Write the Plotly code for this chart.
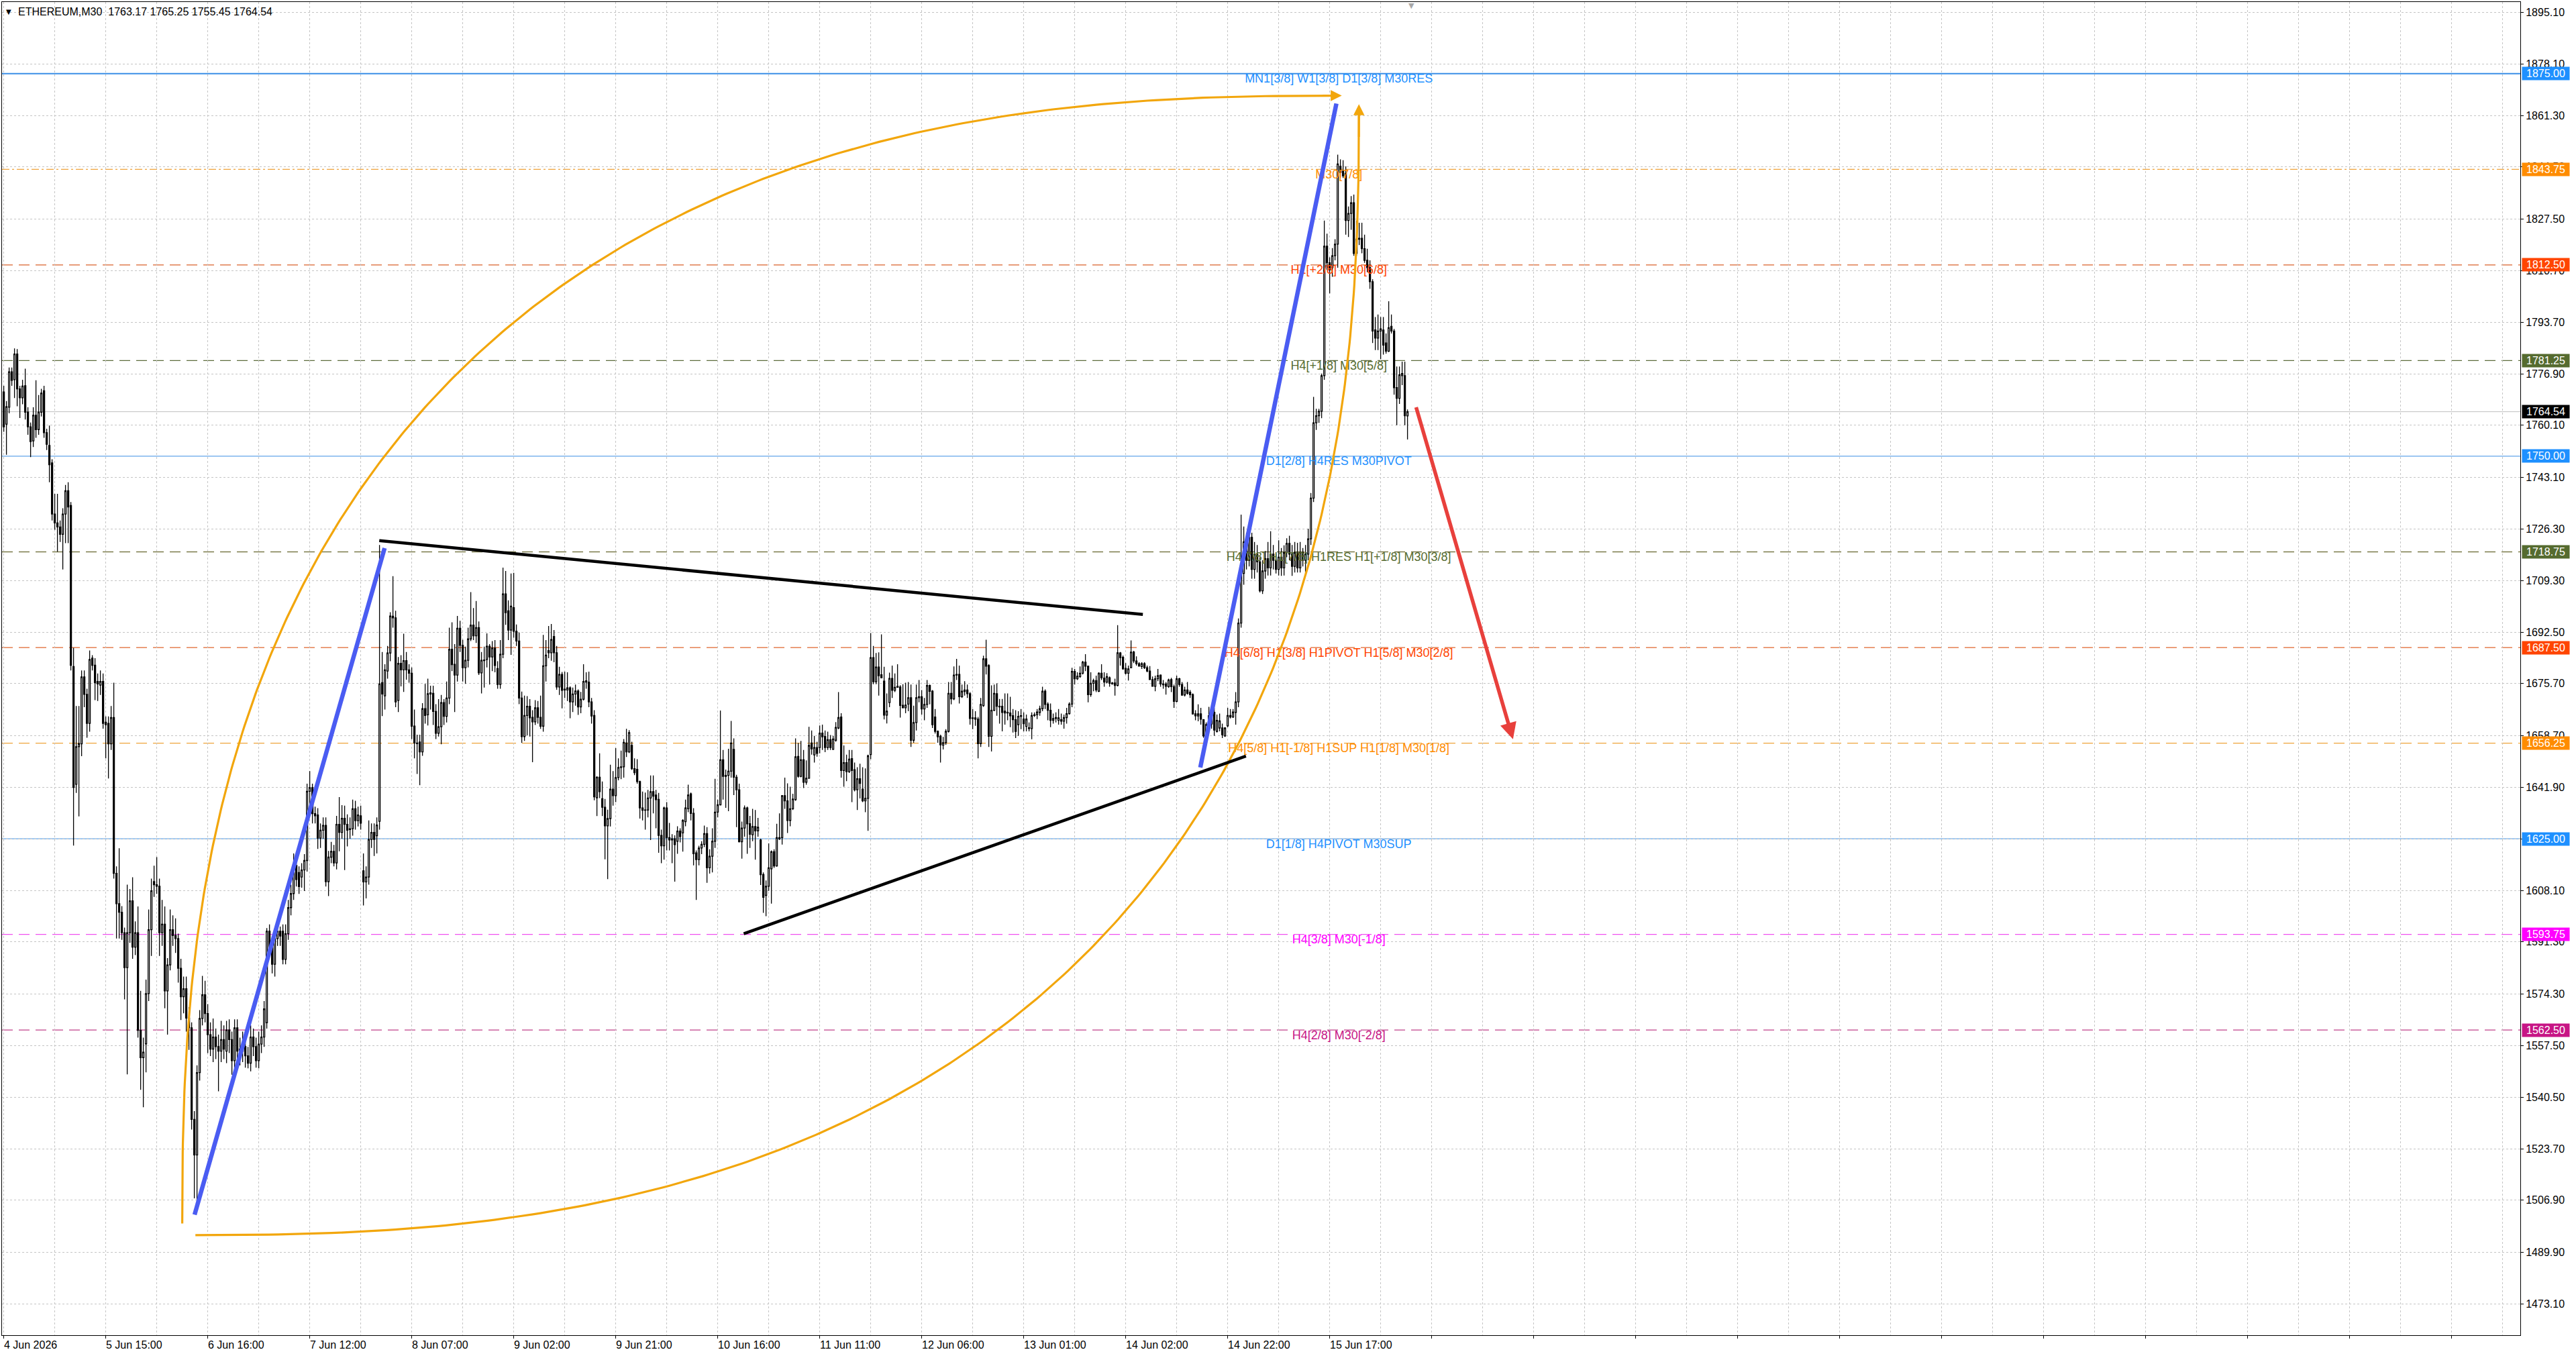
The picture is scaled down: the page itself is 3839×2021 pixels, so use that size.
import numpy as np
import plotly.graph_objects as go

# ---------------- data: ETHEREUM M30 candles (bar index 0..523) ----------------
opens = [
1771.0, 1760.5, 1766.0, 1777.6, 1775.0, 1783.4, 1772.0, 1769.1, 1773.0, 1764.4,
1759.6, 1755.0, 1763.4, 1758.7, 1764.4, 1771.4, 1757.7, 1753.5, 1747.8, 1731.1,
1728.2, 1726.9, 1724.5, 1731.1, 1738.7, 1733.9, 1681.3, 1642.8, 1655.1, 1656.0,
1677.9, 1672.2, 1662.7, 1684.0, 1681.7, 1676.4, 1675.2, 1676.4, 1663.1, 1662.7,
1656.0, 1664.6, 1613.7, 1603.8, 1601.0, 1594.3, 1582.9, 1594.3, 1604.7, 1589.6,
1594.3, 1562.4, 1553.5, 1558.0, 1574.4, 1595.3, 1611.0, 1610.0, 1609.5, 1594.3,
1597.1, 1575.3, 1583.8, 1595.3, 1593.4, 1592.4, 1582.7, 1573.4, 1576.0, 1566.4,
1563.2, 1533.3, 1521.7, 1548.6, 1566.3, 1574.0, 1567.9, 1561.0, 1556.3, 1560.2,
1557.1, 1555.6, 1559.4, 1555.6, 1562.5, 1559.4, 1552.5, 1563.2, 1556.3, 1555.6,
1557.1, 1554.1, 1551.7, 1560.2, 1557.1, 1552.5, 1557.9, 1560.2, 1564.9, 1594.8,
1589.4, 1584.0, 1592.4, 1594.8, 1594.8, 1585.6, 1594.0, 1602.5, 1607.1, 1616.3,
1614.0, 1612.5, 1614.8, 1617.9, 1640.5, 1641.7, 1633.2, 1632.8, 1625.2, 1627.8,
1629.4, 1611.0, 1619.0, 1620.9, 1617.1, 1629.7, 1627.1, 1631.7, 1629.7, 1628.0,
1628.3, 1634.8, 1630.9, 1632.5, 1614.5, 1610.9, 1612.5, 1624.8, 1627.1, 1626.0,
1630.7, 1676.0, 1671.7, 1679.8, 1685.7, 1697.7, 1697.2, 1670.2, 1682.3, 1680.2,
1683.2, 1680.2, 1679.1, 1661.8, 1656.3, 1656.6, 1653.4, 1667.5, 1665.5, 1672.7,
1672.5, 1666.6, 1659.5, 1661.6, 1669.5, 1665.0, 1671.0, 1686.9, 1682.0, 1678.5,
1693.8, 1688.2, 1680.9, 1683.3, 1690.3, 1694.8, 1691.3, 1694.0, 1679.2, 1683.4,
1683.6, 1687.9, 1684.4, 1687.3, 1680.6, 1675.4, 1685.3, 1705.0, 1699.5, 1693.2,
1700.5, 1692.8, 1689.6, 1671.0, 1658.4, 1665.3, 1668.3, 1664.7, 1663.2, 1667.8,
1664.7, 1661.8, 1681.5, 1686.5, 1685.8, 1691.1, 1685.8, 1674.6, 1678.7, 1673.9,
1673.6, 1674.3, 1669.7, 1672.3, 1673.3, 1668.1, 1670.6, 1676.6, 1676.2, 1669.7,
1665.3, 1638.4, 1645.1, 1638.1, 1635.3, 1629.2, 1631.6, 1641.2, 1639.1, 1645.0,
1648.3, 1648.5, 1656.3, 1653.4, 1655.5, 1647.9, 1647.7, 1643.7, 1635.1, 1634.3,
1634.4, 1638.3, 1640.4, 1639.3, 1637.9, 1626.1, 1622.7, 1635.1, 1625.4, 1624.6,
1625.0, 1624.2, 1627.5, 1626.9, 1630.6, 1634.8, 1639.7, 1633.3, 1620.4, 1618.2,
1622.0, 1623.2, 1626.7, 1615.5, 1619.3, 1624.2, 1633.7, 1636.1, 1650.8, 1645.7,
1645.7, 1647.1, 1654.2, 1645.1, 1641.0, 1624.0, 1628.5, 1635.1, 1629.9, 1626.3,
1629.0, 1627.6, 1624.6, 1613.3, 1606.5, 1609.5, 1615.2, 1620.8, 1616.1, 1625.4,
1625.4, 1639.1, 1637.4, 1631.0, 1634.8, 1637.8, 1651.9, 1645.4, 1650.8, 1643.5,
1644.8, 1656.3, 1652.4, 1654.8, 1654.8, 1659.5, 1658.4, 1654.8, 1657.4, 1654.2,
1657.2, 1661.2, 1664.8, 1647.3, 1649.9, 1646.9, 1651.2, 1647.6, 1641.0, 1644.6,
1641.2, 1637.4, 1638.2, 1652.5, 1684.2, 1676.3, 1681.1, 1678.6, 1676.5, 1665.4,
1669.5, 1677.4, 1673.5, 1674.5, 1674.6, 1668.6, 1667.8, 1669.0, 1671.1, 1657.2,
1663.0, 1671.1, 1671.4, 1667.4, 1668.9, 1675.1, 1673.2, 1664.8, 1660.1, 1658.5,
1655.6, 1656.4, 1660.1, 1672.5, 1670.7, 1678.5, 1678.7, 1671.4, 1673.1, 1673.6,
1672.4, 1664.5, 1664.1, 1664.1, 1656.1, 1668.5, 1683.8, 1681.6, 1658.5, 1667.0,
1672.4, 1668.3, 1668.3, 1666.7, 1666.1, 1666.1, 1665.2, 1663.9, 1662.3, 1665.0,
1664.1, 1661.7, 1661.3, 1661.0, 1665.5, 1665.5, 1666.3, 1667.5, 1673.2, 1669.0,
1667.0, 1663.7, 1664.3, 1663.7, 1663.9, 1663.4, 1664.6, 1665.9, 1669.0, 1679.7,
1677.3, 1678.0, 1679.1, 1682.7, 1681.4, 1672.1, 1675.8, 1676.7, 1673.2, 1679.1,
1677.5, 1676.2, 1677.6, 1675.9, 1675.9, 1675.1, 1685.7, 1684.3, 1680.7, 1679.1,
1680.9, 1686.0, 1683.1, 1682.2, 1681.3, 1682.2, 1680.9, 1679.8, 1677.0, 1674.8,
1677.3, 1678.5, 1675.6, 1675.6, 1674.7, 1677.0, 1674.7, 1669.9, 1677.3, 1675.4,
1672.0, 1673.6, 1672.9, 1672.1, 1665.8, 1665.1, 1665.8, 1663.9, 1659.4, 1665.2,
1662.5, 1666.3, 1660.1, 1661.2, 1661.2, 1658.6, 1661.9, 1665.3, 1664.8, 1666.3,
1669.7, 1695.5, 1711.7, 1722.0, 1716.0, 1723.5, 1713.0, 1718.0, 1715.5, 1706.0,
1712.5, 1716.5, 1713.5, 1718.0, 1716.0, 1713.0, 1717.0, 1713.5, 1718.5, 1721.5,
1718.0, 1714.0, 1718.5, 1713.5, 1718.5, 1716.0, 1718.0, 1723.0, 1736.3, 1760.9,
1763.2, 1764.7, 1776.3, 1818.6, 1813.2, 1811.6, 1815.5, 1819.3, 1844.7, 1843.2,
1842.4, 1827.0, 1829.3, 1832.8, 1816.3, 1820.9, 1821.2, 1817.8, 1814.0, 1811.6,
1807.0, 1791.3, 1788.6, 1790.9, 1791.2, 1787.0, 1784.3, 1792.4, 1790.9, 1772.4,
1768.9, 1776.3, 1776.3, 1763.17,
]

highs = [
1773.0, 1768.0, 1779.0, 1779.0, 1785.2, 1785.0, 1773.0, 1775.0, 1778.6, 1766.0,
1761.0, 1766.0, 1774.8, 1770.0, 1772.0, 1773.0, 1759.0, 1760.0, 1749.0, 1737.7,
1737.7, 1729.0, 1733.0, 1740.6, 1741.5, 1735.0, 1687.4, 1668.4, 1668.4, 1680.0,
1680.0, 1674.0, 1686.5, 1685.0, 1684.0, 1679.0, 1680.0, 1679.0, 1665.0, 1665.0,
1668.4, 1676.0, 1616.0, 1621.9, 1603.0, 1596.0, 1610.0, 1608.6, 1612.4, 1598.0,
1602.9, 1575.3, 1560.0, 1579.0, 1601.9, 1612.0, 1616.2, 1619.0, 1612.0, 1605.0,
1602.9, 1586.0, 1601.9, 1600.0, 1599.0, 1594.0, 1585.8, 1580.0, 1580.0, 1570.0,
1565.0, 1536.0, 1551.0, 1569.0, 1580.2, 1578.6, 1571.0, 1565.0, 1566.3, 1563.0,
1561.0, 1565.5, 1564.0, 1565.5, 1566.0, 1562.0, 1566.0, 1566.0, 1560.0, 1562.0,
1559.0, 1557.0, 1564.0, 1563.0, 1560.0, 1562.0, 1564.0, 1572.0, 1595.8, 1597.0,
1592.0, 1595.0, 1598.0, 1596.3, 1597.0, 1597.0, 1605.0, 1610.0, 1620.2, 1618.0,
1616.0, 1617.0, 1620.0, 1643.0, 1647.1, 1643.0, 1635.5, 1635.0, 1630.0, 1632.0,
1632.0, 1621.0, 1624.0, 1623.0, 1632.5, 1638.6, 1636.0, 1635.8, 1633.0, 1632.0,
1637.8, 1637.4, 1635.5, 1635.8, 1620.2, 1616.0, 1631.0, 1630.0, 1630.0, 1632.0,
1721.0, 1686.0, 1682.0, 1688.0, 1699.0, 1710.8, 1699.5, 1684.4, 1685.0, 1692.0,
1686.0, 1682.0, 1681.0, 1667.2, 1659.0, 1659.0, 1669.3, 1675.6, 1677.3, 1675.0,
1675.0, 1669.0, 1670.6, 1672.0, 1670.6, 1676.4, 1694.0, 1695.7, 1688.6, 1697.8,
1696.2, 1690.0, 1687.8, 1694.0, 1705.6, 1700.4, 1702.7, 1696.0, 1686.0, 1687.8,
1692.1, 1688.6, 1689.6, 1689.9, 1683.0, 1689.9, 1713.6, 1712.5, 1702.9, 1711.7,
1711.9, 1695.0, 1692.4, 1673.1, 1671.8, 1671.6, 1670.6, 1667.0, 1670.3, 1670.0,
1671.8, 1691.6, 1689.9, 1694.5, 1695.2, 1693.2, 1688.0, 1681.2, 1679.5, 1679.6,
1679.4, 1674.8, 1674.4, 1675.4, 1673.8, 1673.0, 1682.0, 1679.4, 1679.6, 1671.0,
1667.0, 1645.4, 1652.9, 1643.7, 1638.0, 1634.5, 1649.2, 1647.1, 1654.6, 1651.3,
1653.8, 1657.6, 1660.9, 1660.5, 1656.7, 1651.3, 1651.0, 1644.0, 1640.4, 1640.1,
1641.0, 1645.7, 1645.7, 1641.0, 1640.0, 1628.0, 1635.5, 1637.0, 1630.2, 1626.5,
1626.1, 1629.1, 1628.4, 1631.4, 1637.8, 1642.7, 1640.1, 1635.0, 1621.2, 1622.7,
1624.2, 1629.3, 1628.8, 1621.6, 1628.4, 1644.6, 1637.8, 1666.9, 1654.0, 1647.6,
1654.4, 1663.5, 1657.8, 1645.9, 1643.0, 1630.6, 1635.9, 1635.5, 1632.5, 1634.8,
1634.4, 1631.8, 1625.0, 1614.0, 1611.4, 1623.5, 1621.2, 1621.6, 1629.9, 1633.3,
1639.3, 1645.0, 1643.1, 1642.0, 1639.7, 1657.8, 1656.3, 1657.0, 1654.0, 1650.6,
1661.6, 1660.4, 1658.6, 1656.7, 1662.0, 1662.3, 1660.4, 1660.0, 1658.9, 1658.6,
1663.1, 1672.9, 1666.0, 1655.5, 1652.5, 1654.0, 1654.0, 1649.9, 1648.4, 1649.5,
1648.4, 1648.0, 1652.5, 1692.2, 1688.0, 1685.7, 1685.9, 1691.8, 1681.2, 1672.5,
1679.3, 1681.6, 1679.0, 1682.0, 1675.2, 1675.5, 1676.0, 1676.2, 1675.4, 1668.5,
1675.4, 1676.9, 1673.6, 1671.0, 1676.9, 1675.4, 1673.6, 1667.4, 1660.4, 1659.0,
1658.3, 1660.8, 1676.2, 1676.2, 1681.3, 1683.8, 1681.6, 1675.4, 1676.5, 1675.4,
1672.9, 1667.4, 1666.7, 1664.8, 1671.0, 1684.8, 1690.0, 1682.0, 1675.1, 1675.4,
1675.8, 1670.7, 1670.7, 1672.5, 1672.5, 1671.4, 1667.4, 1667.0, 1666.7, 1667.4,
1666.3, 1665.6, 1663.0, 1666.3, 1666.3, 1667.4, 1668.5, 1674.7, 1673.8, 1669.6,
1669.2, 1665.9, 1666.3, 1667.4, 1665.9, 1665.6, 1667.8, 1669.6, 1680.9, 1680.5,
1679.4, 1681.3, 1683.1, 1685.3, 1681.6, 1679.4, 1677.3, 1678.3, 1679.4, 1682.0,
1679.4, 1679.1, 1678.0, 1676.2, 1677.3, 1694.8, 1686.0, 1684.9, 1682.4, 1681.6,
1689.8, 1686.4, 1684.6, 1682.7, 1682.7, 1682.7, 1681.6, 1681.4, 1678.0, 1678.3,
1680.5, 1678.7, 1676.9, 1676.2, 1677.3, 1677.6, 1675.4, 1678.3, 1677.6, 1676.2,
1674.7, 1676.2, 1673.6, 1672.5, 1667.0, 1668.9, 1667.8, 1664.1, 1663.0, 1668.1,
1667.0, 1667.8, 1665.6, 1665.9, 1662.6, 1661.5, 1667.8, 1667.4, 1667.4, 1672.9,
1697.0, 1730.9, 1727.0, 1725.0, 1727.8, 1725.0, 1722.0, 1721.0, 1717.0, 1716.0,
1719.0, 1722.0, 1725.5, 1721.0, 1718.0, 1722.5, 1720.0, 1720.9, 1723.2, 1724.0,
1721.0, 1722.0, 1721.7, 1722.0, 1720.0, 1721.0, 1726.3, 1738.0, 1769.4, 1765.5,
1765.5, 1777.0, 1827.0, 1822.7, 1815.0, 1818.0, 1820.9, 1848.5, 1847.0, 1846.7,
1844.7, 1831.6, 1835.0, 1835.5, 1827.0, 1826.3, 1826.3, 1822.4, 1817.8, 1814.0,
1807.8, 1795.5, 1796.3, 1795.5, 1795.5, 1790.1, 1800.6, 1796.3, 1791.6, 1779.3,
1779.3, 1780.9, 1780.9, 1765.25,
]

lows = [
1758.0, 1750.5, 1764.0, 1773.0, 1769.0, 1766.3, 1762.5, 1767.0, 1762.0, 1757.0,
1749.7, 1753.0, 1756.0, 1757.0, 1763.0, 1756.0, 1752.0, 1741.5, 1729.0, 1726.0,
1718.8, 1722.0, 1713.0, 1721.6, 1721.6, 1680.0, 1622.8, 1640.0, 1632.3, 1652.0,
1668.0, 1658.0, 1660.0, 1680.0, 1670.3, 1670.0, 1672.0, 1661.0, 1651.3, 1644.7,
1654.0, 1612.0, 1592.4, 1592.4, 1592.0, 1572.5, 1548.0, 1591.0, 1585.8, 1587.0,
1560.0, 1543.0, 1537.3, 1548.7, 1572.0, 1586.7, 1606.0, 1607.0, 1586.7, 1590.0,
1569.6, 1561.0, 1582.0, 1590.0, 1587.7, 1578.0, 1565.8, 1568.0, 1562.0, 1556.0,
1530.0, 1507.5, 1506.0, 1546.0, 1564.0, 1565.0, 1555.0, 1554.0, 1552.0, 1553.0,
1542.5, 1552.0, 1553.0, 1551.7, 1555.0, 1547.9, 1550.0, 1551.0, 1551.0, 1552.0,
1550.2, 1550.0, 1549.0, 1554.0, 1550.2, 1550.0, 1555.0, 1557.0, 1563.0, 1587.0,
1581.0, 1580.0, 1590.0, 1590.0, 1584.0, 1584.0, 1592.0, 1600.0, 1605.0, 1609.4,
1607.0, 1609.0, 1607.9, 1614.3, 1636.0, 1630.0, 1630.0, 1621.7, 1622.0, 1625.0,
1609.4, 1606.3, 1617.0, 1616.0, 1615.0, 1620.9, 1625.0, 1614.8, 1622.5, 1625.0,
1626.0, 1628.0, 1629.0, 1628.0, 1603.2, 1605.5, 1610.0, 1622.0, 1619.4, 1620.2,
1628.0, 1665.1, 1667.2, 1677.3, 1683.0, 1694.0, 1668.0, 1666.4, 1674.8, 1673.0,
1677.0, 1676.0, 1657.6, 1651.3, 1646.2, 1642.5, 1652.1, 1662.6, 1662.0, 1667.2,
1662.2, 1657.6, 1658.4, 1655.9, 1662.2, 1663.0, 1669.0, 1679.8, 1666.4, 1676.4,
1686.0, 1676.4, 1675.6, 1681.0, 1689.6, 1689.9, 1689.0, 1678.5, 1672.5, 1674.4,
1681.0, 1675.4, 1679.8, 1679.4, 1674.0, 1674.0, 1684.0, 1694.9, 1689.9, 1685.1,
1690.7, 1688.0, 1669.0, 1656.3, 1657.0, 1658.8, 1658.4, 1650.0, 1662.2, 1662.6,
1660.9, 1660.0, 1676.4, 1684.0, 1683.2, 1682.7, 1673.7, 1672.0, 1667.6, 1671.0,
1670.0, 1664.4, 1666.4, 1668.5, 1665.5, 1666.0, 1670.2, 1674.0, 1668.0, 1662.6,
1637.6, 1632.4, 1638.3, 1632.4, 1618.3, 1611.8, 1629.0, 1635.8, 1637.0, 1644.1,
1644.5, 1645.0, 1651.7, 1653.0, 1647.5, 1645.8, 1643.0, 1631.6, 1631.0, 1628.0,
1632.0, 1624.6, 1633.3, 1628.4, 1620.4, 1617.0, 1618.2, 1621.2, 1621.2, 1617.0,
1611.0, 1620.1, 1623.8, 1620.8, 1629.1, 1633.7, 1631.0, 1616.3, 1605.0, 1616.3,
1620.0, 1622.3, 1610.6, 1613.6, 1614.0, 1622.0, 1632.0, 1635.9, 1637.8, 1635.1,
1634.0, 1645.0, 1639.3, 1628.8, 1623.8, 1618.5, 1625.7, 1620.1, 1622.0, 1624.2,
1618.2, 1625.7, 1609.9, 1600.8, 1599.7, 1608.0, 1603.8, 1615.5, 1615.9, 1624.6,
1623.1, 1634.8, 1626.9, 1629.1, 1634.4, 1637.4, 1645.0, 1645.1, 1641.6, 1642.7,
1644.6, 1652.5, 1649.9, 1651.8, 1652.9, 1654.0, 1653.3, 1654.0, 1654.0, 1654.0,
1656.7, 1660.8, 1645.0, 1642.0, 1643.8, 1646.5, 1637.0, 1640.5, 1634.4, 1638.2,
1637.0, 1633.7, 1627.6, 1651.0, 1675.5, 1675.5, 1671.8, 1677.4, 1664.0, 1662.7,
1668.0, 1671.0, 1672.9, 1674.4, 1664.6, 1667.6, 1666.0, 1666.7, 1655.0, 1656.4,
1660.4, 1669.6, 1665.6, 1663.7, 1667.8, 1668.9, 1661.2, 1659.4, 1656.4, 1649.9,
1654.2, 1655.7, 1659.7, 1668.9, 1670.3, 1676.9, 1669.2, 1671.0, 1671.8, 1671.0,
1662.3, 1660.8, 1661.9, 1651.3, 1655.0, 1668.1, 1678.7, 1655.0, 1653.5, 1666.7,
1665.2, 1662.6, 1660.1, 1662.3, 1663.7, 1661.5, 1659.7, 1657.9, 1658.6, 1660.8,
1660.1, 1660.1, 1660.1, 1657.5, 1664.8, 1664.1, 1665.2, 1666.7, 1667.4, 1663.7,
1661.5, 1662.6, 1663.0, 1662.3, 1662.3, 1661.0, 1662.6, 1665.6, 1668.0, 1675.4,
1676.9, 1677.6, 1678.7, 1679.8, 1669.6, 1671.4, 1673.2, 1672.9, 1672.9, 1676.9,
1674.7, 1675.8, 1674.7, 1675.4, 1671.8, 1674.8, 1681.6, 1680.2, 1678.7, 1676.7,
1680.7, 1682.4, 1681.6, 1681.3, 1680.5, 1680.5, 1679.4, 1676.9, 1674.7, 1673.2,
1676.5, 1674.7, 1674.0, 1672.1, 1674.3, 1672.9, 1667.8, 1669.6, 1674.7, 1671.8,
1671.5, 1672.1, 1671.0, 1665.6, 1663.7, 1663.4, 1662.3, 1658.0, 1659.0, 1660.8,
1661.0, 1658.6, 1659.7, 1660.1, 1657.9, 1658.3, 1661.5, 1664.3, 1664.5, 1662.3,
1668.0, 1694.0, 1708.0, 1713.0, 1714.0, 1710.0, 1710.0, 1712.0, 1705.5, 1705.0,
1710.0, 1711.0, 1711.0, 1713.0, 1711.7, 1711.0, 1710.9, 1711.0, 1717.0, 1716.0,
1710.9, 1712.0, 1712.0, 1712.0, 1714.0, 1711.7, 1716.0, 1721.0, 1735.0, 1758.6,
1760.9, 1762.4, 1775.0, 1810.9, 1803.2, 1808.6, 1814.0, 1811.6, 1841.0, 1840.9,
1822.4, 1821.6, 1824.0, 1815.5, 1815.5, 1819.0, 1816.3, 1813.2, 1810.1, 1804.7,
1787.0, 1784.7, 1784.7, 1781.7, 1783.2, 1783.5, 1784.0, 1790.1, 1770.1, 1760.1,
1767.1, 1773.2, 1760.1, 1755.45,
]

closes = [
1759.6, 1766.2, 1777.6, 1774.8, 1783.4, 1772.0, 1769.1, 1772.9, 1764.4, 1759.6,
1754.8, 1763.4, 1758.7, 1764.4, 1770.6, 1757.7, 1753.9, 1747.2, 1731.1, 1728.2,
1726.9, 1724.5, 1731.1, 1738.7, 1733.4, 1681.7, 1641.8, 1655.1, 1656.1, 1677.9,
1672.2, 1662.7, 1683.6, 1681.7, 1676.0, 1675.6, 1676.4, 1662.7, 1662.3, 1656.0,
1664.6, 1613.7, 1603.8, 1601.0, 1594.3, 1582.9, 1594.3, 1604.7, 1589.6, 1594.3,
1562.4, 1553.5, 1555.3, 1574.4, 1595.3, 1608.0, 1610.0, 1609.5, 1594.3, 1597.1,
1575.3, 1583.8, 1595.3, 1593.4, 1592.4, 1582.7, 1573.4, 1576.0, 1566.4, 1563.2,
1533.3, 1521.7, 1548.6, 1566.3, 1574.0, 1567.9, 1561.0, 1556.3, 1560.2, 1557.1,
1555.6, 1559.4, 1556.3, 1562.5, 1559.4, 1552.5, 1563.2, 1555.6, 1555.6, 1557.1,
1554.1, 1551.7, 1560.2, 1557.1, 1552.5, 1557.9, 1560.2, 1569.4, 1594.8, 1589.4,
1584.0, 1592.4, 1594.8, 1593.2, 1585.6, 1594.0, 1602.5, 1607.1, 1614.0, 1611.7,
1609.4, 1614.8, 1617.9, 1640.5, 1641.7, 1633.2, 1632.5, 1625.2, 1627.8, 1629.4,
1611.0, 1619.0, 1620.9, 1617.1, 1629.7, 1627.1, 1631.7, 1629.7, 1627.8, 1628.3,
1634.8, 1630.9, 1632.8, 1630.1, 1610.9, 1612.5, 1624.8, 1627.1, 1624.8, 1629.5,
1675.6, 1672.3, 1680.2, 1685.7, 1697.8, 1697.2, 1669.7, 1682.3, 1680.2, 1683.2,
1680.2, 1679.1, 1661.8, 1656.3, 1656.1, 1653.4, 1667.5, 1665.3, 1672.4, 1672.3,
1666.6, 1659.5, 1661.6, 1669.5, 1665.0, 1671.0, 1686.9, 1681.9, 1678.5, 1693.8,
1688.2, 1680.9, 1683.3, 1690.3, 1694.8, 1691.3, 1694.0, 1679.2, 1683.3, 1683.2,
1687.9, 1684.4, 1687.3, 1681.6, 1675.4, 1685.3, 1705.0, 1698.9, 1693.2, 1701.0,
1692.8, 1689.6, 1671.0, 1658.4, 1665.3, 1668.3, 1664.5, 1663.2, 1667.8, 1664.7,
1661.8, 1681.5, 1685.0, 1685.8, 1690.1, 1685.8, 1674.6, 1678.7, 1673.5, 1673.6,
1674.3, 1669.7, 1672.3, 1673.3, 1668.1, 1670.6, 1676.4, 1676.2, 1669.7, 1665.1,
1638.7, 1645.1, 1640.4, 1635.3, 1629.2, 1631.6, 1641.2, 1639.1, 1645.0, 1648.3,
1648.5, 1656.5, 1653.4, 1659.7, 1647.9, 1646.6, 1643.7, 1635.1, 1634.3, 1634.4,
1638.3, 1640.4, 1638.9, 1637.8, 1626.1, 1622.7, 1635.1, 1625.4, 1624.6, 1625.0,
1623.1, 1627.5, 1625.7, 1631.0, 1635.1, 1639.3, 1633.3, 1620.1, 1618.2, 1622.0,
1623.2, 1626.7, 1615.5, 1619.3, 1624.2, 1633.7, 1636.1, 1650.8, 1645.4, 1645.4,
1647.1, 1656.3, 1645.1, 1641.0, 1624.0, 1628.5, 1635.1, 1629.9, 1626.5, 1629.0,
1627.6, 1628.8, 1613.3, 1605.9, 1609.5, 1615.5, 1620.8, 1616.1, 1625.4, 1625.0,
1639.1, 1637.4, 1631.0, 1634.8, 1638.0, 1651.8, 1645.4, 1650.8, 1643.5, 1644.8,
1655.5, 1654.4, 1654.8, 1652.9, 1659.5, 1658.3, 1654.8, 1657.4, 1654.8, 1657.6,
1661.4, 1664.6, 1647.3, 1649.9, 1646.9, 1651.0, 1647.3, 1641.0, 1644.6, 1643.1,
1637.4, 1638.2, 1652.1, 1684.2, 1676.3, 1681.1, 1678.3, 1677.6, 1665.4, 1666.7,
1677.4, 1673.5, 1674.5, 1674.8, 1668.6, 1667.8, 1668.7, 1671.1, 1657.2, 1663.0,
1671.1, 1671.4, 1667.4, 1668.9, 1675.1, 1673.2, 1662.3, 1660.1, 1658.3, 1655.7,
1656.4, 1660.1, 1672.5, 1670.7, 1678.5, 1678.7, 1671.4, 1673.2, 1673.6, 1672.4,
1664.3, 1664.3, 1664.5, 1656.1, 1668.9, 1683.8, 1681.4, 1658.5, 1667.0, 1672.5,
1668.3, 1668.1, 1666.3, 1666.1, 1666.3, 1665.2, 1663.9, 1660.1, 1665.0, 1665.2,
1662.6, 1664.1, 1661.0, 1665.3, 1665.3, 1666.4, 1667.5, 1673.2, 1668.9, 1667.0,
1663.7, 1664.3, 1664.6, 1664.5, 1663.4, 1664.6, 1665.9, 1669.0, 1679.7, 1677.3,
1678.1, 1679.1, 1682.7, 1681.4, 1672.1, 1675.8, 1676.7, 1673.6, 1679.1, 1677.6,
1676.2, 1678.0, 1675.8, 1675.6, 1675.1, 1685.8, 1684.2, 1680.5, 1679.1, 1680.5,
1686.0, 1683.1, 1682.2, 1681.4, 1682.2, 1680.9, 1679.8, 1677.0, 1674.8, 1677.3,
1678.3, 1675.6, 1675.3, 1674.8, 1676.9, 1674.7, 1669.9, 1677.3, 1675.4, 1671.9,
1673.6, 1672.5, 1672.1, 1665.8, 1665.2, 1665.8, 1664.1, 1658.6, 1662.3, 1661.7,
1664.5, 1660.5, 1663.7, 1663.5, 1659.0, 1661.2, 1665.3, 1664.8, 1666.4, 1669.7,
1695.5, 1711.7, 1722.0, 1716.0, 1723.5, 1713.0, 1718.0, 1715.5, 1706.0, 1712.5,
1716.5, 1713.5, 1718.0, 1716.0, 1713.0, 1717.0, 1713.5, 1718.5, 1721.5, 1718.0,
1714.0, 1718.5, 1713.5, 1718.5, 1716.0, 1718.0, 1723.0, 1736.3, 1760.9, 1763.2,
1764.7, 1776.3, 1818.6, 1813.2, 1810.9, 1815.5, 1819.3, 1845.5, 1842.7, 1841.6,
1827.0, 1829.3, 1832.8, 1816.3, 1820.9, 1821.2, 1817.8, 1814.0, 1811.6, 1807.0,
1790.9, 1788.6, 1790.9, 1791.6, 1786.3, 1784.3, 1792.0, 1790.9, 1772.4, 1768.9,
1776.6, 1777.0, 1763.2, 1764.54,
]

# x-axis time labels (bar index -> text)
time_label_bars = [0, 38, 76, 114, 152, 190, 228, 266, 304, 342, 380, 418, 456, 494]
time_labels = ["4 Jun 2026", "5 Jun 15:00", "6 Jun 16:00", "7 Jun 12:00", "8 Jun 07:00",
               "9 Jun 02:00", "9 Jun 21:00", "10 Jun 16:00", "11 Jun 11:00", "12 Jun 06:00",
               "13 Jun 01:00", "14 Jun 02:00", "14 Jun 22:00", "15 Jun 17:00"]

# price-axis tick values
price_ticks = [1895.10, 1878.10, 1861.30, 1844.50, 1827.50, 1810.70, 1793.70, 1776.90,
               1760.10, 1743.10, 1726.30, 1709.30, 1692.50, 1675.70, 1658.70, 1641.90,
               1624.90, 1608.10, 1591.30, 1574.30, 1557.50, 1540.50, 1523.70, 1506.90,
               1489.90, 1473.10]

# Murrey-math style levels
level_prices = [1875.00, 1843.75, 1812.50, 1781.25, 1750.00, 1718.75,
                1687.50, 1656.25, 1625.00, 1593.75, 1562.50]
level_texts = ["MN1[3/8] W1[3/8] D1[3/8] M30RES",
               "M30[7/8]",
               "H1[+2/8] M30[6/8]",
               "H4[+1/8] M30[5/8]",
               "D1[2/8] H4RES M30PIVOT",
               "H4[7/8] H1[7/8] H1RES H1[+1/8] M30[3/8]",
               "H4[6/8] H1[3/8] H1PIVOT H1[5/8] M30[2/8]",
               "H4[5/8] H1[-1/8] H1SUP H1[1/8] M30[1/8]",
               "D1[1/8] H4PIVOT M30SUP",
               "H4[3/8] M30[-1/8]",
               "H4[2/8] M30[-2/8]"]

# hand-drawn objects (bar index, price)
blue_trend_bars = [[71.1, 141.9], [445.8, 496.5]]
blue_trend_prices = [[1502.2, 1720.0], [1648.3, 1865.2]]
black_trend_bars = [[139.9, 424.4], [275.7, 462.8]]
black_trend_prices = [[1722.4, 1698.3], [1594.0, 1652.0]]
arc_upper_start = (66.5, 1499.3)
arc_upper_end = (497.0, 1867.8)
arc_lower_start = (71.4, 1495.5)
arc_lower_end = (504.9, 1864.0)
red_arrow_bars = [526.1, 562.3]
red_arrow_prices = [1766.3, 1657.5]

# ---------------- styling ----------------
FONT = "Liberation Sans, Arial, Helvetica, sans-serif"
BLUE = "#1e90ff"
ORANGE = "#ff8c00"
ORANGERED = "#ff4500"
OLIVE = "#556b2f"
MAGENTA = "#ff00ff"
VIOLET = "#c71585"
level_colors = [BLUE, ORANGE, ORANGERED, OLIVE, BLUE, OLIVE, ORANGERED, ORANGE, BLUE, MAGENTA, VIOLET]
level_line_colors = ["#3a8ee6", "#efa33a", "#d9622b", "#5d6b3c", "#3a8ee6", "#7a7a4a",
                     "#e0662e", "#efa33a", "#3a8ee6", "#f050f0", "#c0408a"]
level_dashes = ["solid", "11px,4px,3px,4px", "16px,9px", "16px,9px", "solid", "16px,9px",
                "16px,9px", "16px,9px", "solid", "16px,9px", "16px,9px"]
level_widths = [2, 1.3, 1.3, 1.3, 1, 1.3, 1.3, 1.3, 1, 1.3, 1.3]
ARC_COLOR = "#f2a60c"
TREND_BLUE = "#4a5cf2"
RED = "#e8403c"
GRID = "#c4c4c4"

n_bars = len(closes)
bars = list(range(n_bars))
x_range = [-0.65, 937.6]
y_range = [1462.8, 1898.4]

fig = go.Figure()

# level labels (drawn as text)
label_bar = 497.4
fig.add_trace(go.Scatter(
    x=[label_bar] * len(level_prices), y=level_prices, mode="text",
    text=level_texts, textposition="bottom center",
    textfont=dict(family=FONT, size=18, color=level_colors),
    hoverinfo="skip", showlegend=False))

fig.add_trace(go.Candlestick(
    x=bars, open=opens, high=highs, low=lows, close=closes,
    increasing=dict(line=dict(color="black", width=1.3), fillcolor="white"),
    decreasing=dict(line=dict(color="black", width=1.3), fillcolor="black"),
    whiskerwidth=0, hoverinfo="skip", showlegend=False))

# arcs (super-ellipse quarter curves between the drawn anchors)
t = np.linspace(0, np.pi / 2, 300)
p = 2 / 2.5
sx, sy = arc_upper_start
ex, ey = arc_upper_end
arc1_x = ex - (ex - sx) * np.cos(t) ** p
arc1_y = sy + (ey - sy) * np.sin(t) ** p
sx2, sy2 = arc_lower_start
ex2, ey2 = arc_lower_end
arc2_x = sx2 + (ex2 - sx2) * np.sin(t) ** p
arc2_y = ey2 - (ey2 - sy2) * np.cos(t) ** p
for ax_, ay_ in [(arc1_x, arc1_y), (arc2_x, arc2_y)]:
    fig.add_trace(go.Scatter(x=ax_, y=ay_, mode="lines",
                             line=dict(color=ARC_COLOR, width=3.2),
                             hoverinfo="skip", showlegend=False))

for bx, by in zip(blue_trend_bars, blue_trend_prices):
    fig.add_trace(go.Scatter(x=bx, y=by, mode="lines",
                             line=dict(color=TREND_BLUE, width=6.5),
                             hoverinfo="skip", showlegend=False))
for bx, by in zip(black_trend_bars, black_trend_prices):
    fig.add_trace(go.Scatter(x=bx, y=by, mode="lines",
                             line=dict(color="black", width=4.5),
                             hoverinfo="skip", showlegend=False))

# ---------------- shapes ----------------
shapes = []
for pr, col, dsh, w in zip(level_prices, level_line_colors, level_dashes, level_widths):
    shapes.append(dict(type="line", xref="paper", x0=0, x1=1, yref="y", y0=pr, y1=pr,
                       line=dict(color=col, width=w, dash=dsh), layer="between"))
# current price line
shapes.append(dict(type="line", xref="paper", x0=0, x1=1, yref="y", y0=closes[-1], y1=closes[-1],
                   line=dict(color="#c0c0c0", width=1), layer="between"))

# ---------------- annotations ----------------
annotations = []
# price boxes on the right scale
for pr, col in zip(level_prices, level_colors):
    annotations.append(dict(xref="paper", x=1, xanchor="left", xshift=2, yref="y", y=pr,
                            yanchor="middle", text=f"{pr:.2f}", showarrow=False,
                            font=dict(family=FONT, size=16, color="white"),
                            bgcolor=col, width=66, height=15, borderpad=2, align="center"))
annotations.append(dict(xref="paper", x=1, xanchor="left", xshift=2, yref="y", y=closes[-1],
                        yanchor="middle", text=f"{closes[-1]:.2f}", showarrow=False,
                        font=dict(family=FONT, size=16, color="white"),
                        bgcolor="black", width=66, height=15, borderpad=2, align="center"))
# time labels
for b, txt in zip(time_label_bars, time_labels):
    annotations.append(dict(xref="x", x=b, xanchor="left", xshift=-2, yref="paper", y=0,
                            yanchor="top", yshift=-4, text=txt, showarrow=False,
                            font=dict(family=FONT, size=16, color="black")))
# header
header = "ETHEREUM,M30  {:.2f} {:.2f} {:.2f} {:.2f}".format(opens[-1], highs[-1], lows[-1], closes[-1])
annotations.append(dict(xref="paper", x=0, xanchor="left", xshift=22, yref="paper", y=1,
                        yanchor="top", yshift=-4, text=header, showarrow=False,
                        font=dict(family=FONT, size=16, color="black")))
annotations.append(dict(xref="paper", x=0, xanchor="left", xshift=4, yref="paper", y=1,
                        yanchor="top", yshift=-7, text="▼", showarrow=False,
                        font=dict(family="DejaVu Sans", size=10, color="black")))
# chart-shift marker
annotations.append(dict(xref="x", x=n_bars + 0.5, xanchor="center", yref="paper", y=1,
                        yanchor="top", yshift=3, text="▼", showarrow=False,
                        font=dict(family="DejaVu Sans", size=11, color="#a8a8a8")))
# arrow heads of the arcs and the red arrow
annotations.append(dict(xref="x", yref="y", axref="x", ayref="y",
                        x=arc_upper_end[0] + 1.5, y=arc_upper_end[1],
                        ax=arc_upper_end[0] - 6, ay=arc_upper_end[1],
                        showarrow=True, arrowhead=2, arrowsize=1.1, arrowwidth=3,
                        arrowcolor=ARC_COLOR, text=""))
annotations.append(dict(xref="x", yref="y", axref="x", ayref="y",
                        x=arc_lower_end[0], y=arc_lower_end[1] + 1.0,
                        ax=arc_lower_end[0], ay=arc_lower_end[1] - 10,
                        showarrow=True, arrowhead=2, arrowsize=1.1, arrowwidth=3,
                        arrowcolor=ARC_COLOR, text=""))
annotations.append(dict(xref="x", yref="y", axref="x", ayref="y",
                        x=red_arrow_bars[1], y=red_arrow_prices[1],
                        ax=red_arrow_bars[0], ay=red_arrow_prices[0],
                        showarrow=True, arrowhead=2, arrowsize=0.9, arrowwidth=5.5,
                        arrowcolor=RED, text=""))

fig.update_layout(
    width=3839, height=2021, autosize=False,
    margin=dict(l=3, r=83, t=3, b=31, pad=0),
    paper_bgcolor="white", plot_bgcolor="white",
    showlegend=False, hovermode=False,
    font=dict(family=FONT, size=16, color="black"),
    xaxis=dict(type="linear", range=x_range, rangeslider=dict(visible=False),
               tick0=0, dtick=38, ticks="outside", ticklen=4, tickcolor="black",
               showticklabels=False, showgrid=True, gridcolor=GRID, griddash="3px,3px",
               gridwidth=1, zeroline=False, showline=True, linecolor="black",
               linewidth=1, mirror=True,
               minor=dict(tick0=0, dtick=19, showgrid=True, gridcolor=GRID,
                          griddash="3px,3px", gridwidth=1, ticks="")),
    yaxis=dict(side="right", range=y_range, tickmode="array", tickvals=price_ticks,
               ticktext=[f"{v:.2f}" for v in price_ticks], ticks="outside", ticklen=4,
               tickcolor="black", tickfont=dict(family=FONT, size=16, color="black"),
               showgrid=True, gridcolor=GRID, griddash="3px,3px", gridwidth=1,
               zeroline=False, showline=True, linecolor="black", linewidth=1, mirror=True),
    shapes=shapes, annotations=annotations,
)

fig.write_html("out.html", config={"displayModeBar": False, "staticPlot": True},
               post_script="document.body.style.margin='0';document.body.style.overflow='hidden';")
